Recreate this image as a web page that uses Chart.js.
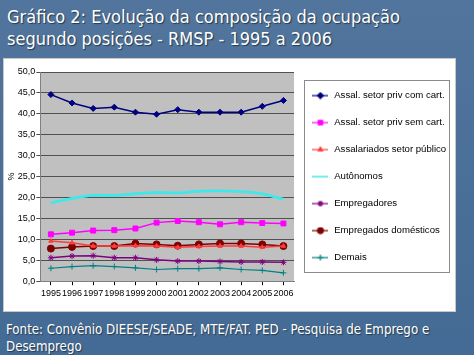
<!DOCTYPE html>
<html><head><meta charset="utf-8">
<script src="https://cdn.jsdelivr.net/npm/chart.js@4"></script>
<style>
html,body{margin:0;padding:0;}
body{width:474px;height:355px;overflow:hidden;position:relative;
 background:linear-gradient(180deg,#52759d 0%,#4a6f98 50%,#446b95 100%);font-family:"DejaVu Sans Condensed","DejaVu Sans",sans-serif;}
.title{position:absolute;left:7px;top:6px;color:#fff;font-size:18px;line-height:22px;text-shadow:1px 1px 1px #22384f;white-space:nowrap;}
.box{position:absolute;left:3px;top:58px;width:453px;height:254px;background:#fff;border:1px solid #c8c8c8;box-sizing:border-box}
.foot{position:absolute;left:6px;top:321px;color:#fff;font-size:13.2px;line-height:17px;text-shadow:1px 1px 1px #22384f;white-space:nowrap;}
canvas{position:absolute;left:0;top:0}
</style></head><body>
<div class="title">Gráfico 2: Evolução da composição da ocupação<br>segundo posições - RMSP - 1995 a 2006</div>
<div class="box"><canvas id="c" width="451" height="252"></canvas></div>
<div class="foot">Fonte: Convênio DIEESE/SEADE, MTE/FAT. PED - Pesquisa de Emprego e<br>Desemprego</div>
<script>
const years = ["1995","1996","1997","1998","1999","2000","2001","2002","2003","2004","2005","2006"];
const seriesNames = ["Assal. setor priv com cart.","Assal. setor priv sem cart.","Assalariados setor público","Autônomos","Empregadores","Empregados domésticos","Demais"];
const privCom   = [44.6,42.6,41.3,41.6,40.4,39.9,41.0,40.4,40.4,40.4,41.8,43.2];
const privSem   = [11.2,11.6,12.1,12.2,12.6,14.0,14.4,14.1,13.6,14.1,13.9,13.8];
const publico   = [9.6,9.2,8.4,8.4,8.5,8.4,8.1,8.3,8.4,8.4,8.1,8.4];
const autonomos = [18.7,19.8,20.5,20.5,20.9,21.2,21.1,21.5,21.6,21.4,20.9,19.6];
const empregadores = [5.6,6.0,6.1,5.6,5.6,5.1,4.8,4.8,4.7,4.6,4.6,4.5];
const domesticos = [7.8,8.2,8.4,8.4,9.0,8.8,8.5,8.8,9.0,9.0,8.8,8.4];
const demais    = [3.1,3.5,3.7,3.5,3.2,2.8,3.0,3.0,3.2,2.8,2.6,2.0];
const yTicks = [0,5,10,15,20,25,30,35,40,45,50];

const styles = [
 {color:'#000080', point:'rectRot', r:3, w:1.5},
 {color:'#ff00ff', point:'rect', r:3.5, w:1.5},
 {color:'#ff3c3c', point:'triangle', r:2.5, w:1.5},
 {color:'#40e8e8', point:false, r:0, w:2.8},
 {color:'#800080', point:'star', r:3, w:1.5},
 {color:'#800000', point:'circle', r:3.5, w:1.5},
 {color:'#008080', point:'cross', r:3, w:1.2}
];
const values=[privCom,privSem,publico,autonomos,empregadores,domesticos,demais];

function legendImg(s){
  const c=document.createElement('canvas'); c.width=16; c.height=8;
  const x=c.getContext('2d');
  x.strokeStyle=s.color; x.lineWidth=s.w>2?1.5:1.2; x.beginPath(); x.moveTo(0,4); x.lineTo(16,4); x.stroke();
  x.fillStyle=s.color;
  if(s.point){ Chart.helpers.drawPoint(x,{pointStyle:s.point,radius:Math.min(s.r,3),borderWidth:1},8,4); x.fill(); }
  return c;
}

const datasets = values.map((v,i)=>({
  label:seriesNames[i], data:v,
  borderColor:styles[i].color, backgroundColor:styles[i].color,
  borderWidth:styles[i].w, pointStyle:styles[i].point||'circle',
  pointRadius:styles[i].r, pointBorderWidth:1, pointBorderColor:styles[i].color,
  tension: i===3?0.4:0, order: i===3?10:i
}));

const bgPlugin={id:'bg',beforeDraw(ch){const a=ch.chartArea,x=ch.ctx;x.save();x.fillStyle='#c0c0c0';x.fillRect(a.left,a.top,a.right-a.left,a.bottom-a.top);x.restore();},
 afterDraw(ch){const l=ch.legend,x=ch.ctx;x.save();x.strokeStyle='#8a8a8a';x.lineWidth=1;
  const L=Math.round(l.left)+10.5,T=Math.round(l.top)+8.5,R=Math.round(l.right)-2.5,B=Math.round(l.bottom)-8.5;
  x.strokeRect(L,T,R-L,B-T);x.restore();}};

new Chart(document.getElementById('c'),{
 type:'line',
 data:{labels:years,datasets},
 plugins:[bgPlugin],
 options:{
  responsive:false, animation:false,
  layout:{padding:{left:2,top:13,right:3,bottom:9}},
  plugins:{
   tooltip:{enabled:false},
   legend:{position:'right',align:'center',maxWidth:158,fullSize:false,
    labels:{color:'#000',font:{family:'"Liberation Sans",Arial',size:9.6},usePointStyle:true,pointStyleWidth:18,padding:17.4,
     generateLabels(ch){return seriesNames.map((n,i)=>({text:n,pointStyle:legendImg(styles[i]),fillStyle:styles[i].color,strokeStyle:styles[i].color,lineWidth:0,datasetIndex:i,fontColor:'#000'}));}}
   }
  },
  scales:{
   x:{offset:true,grid:{drawOnChartArea:false,drawTicks:true,tickLength:4,color:'#000'},border:{color:'#808080'},
      ticks:{color:'#000',font:{family:'"Liberation Sans",Arial',size:9},maxRotation:0,autoSkip:false,padding:3}},
   y:{min:0,max:50,afterBuildTicks(ax){ax.ticks=yTicks.map(v=>({value:v}));},
      grid:{color:'#505050',lineWidth:1,tickLength:4,drawTicks:true},border:{color:'#808080'},
      title:{display:true,text:'%',color:'#000',font:{family:'"Liberation Sans",Arial',size:9},padding:{top:0,bottom:0}},
      ticks:{color:'#000',font:{family:'"Liberation Sans",Arial',size:9},padding:1,callback:v=>v.toFixed(1).replace('.',',')}}
  }
 }
});
</script>
</body></html>
